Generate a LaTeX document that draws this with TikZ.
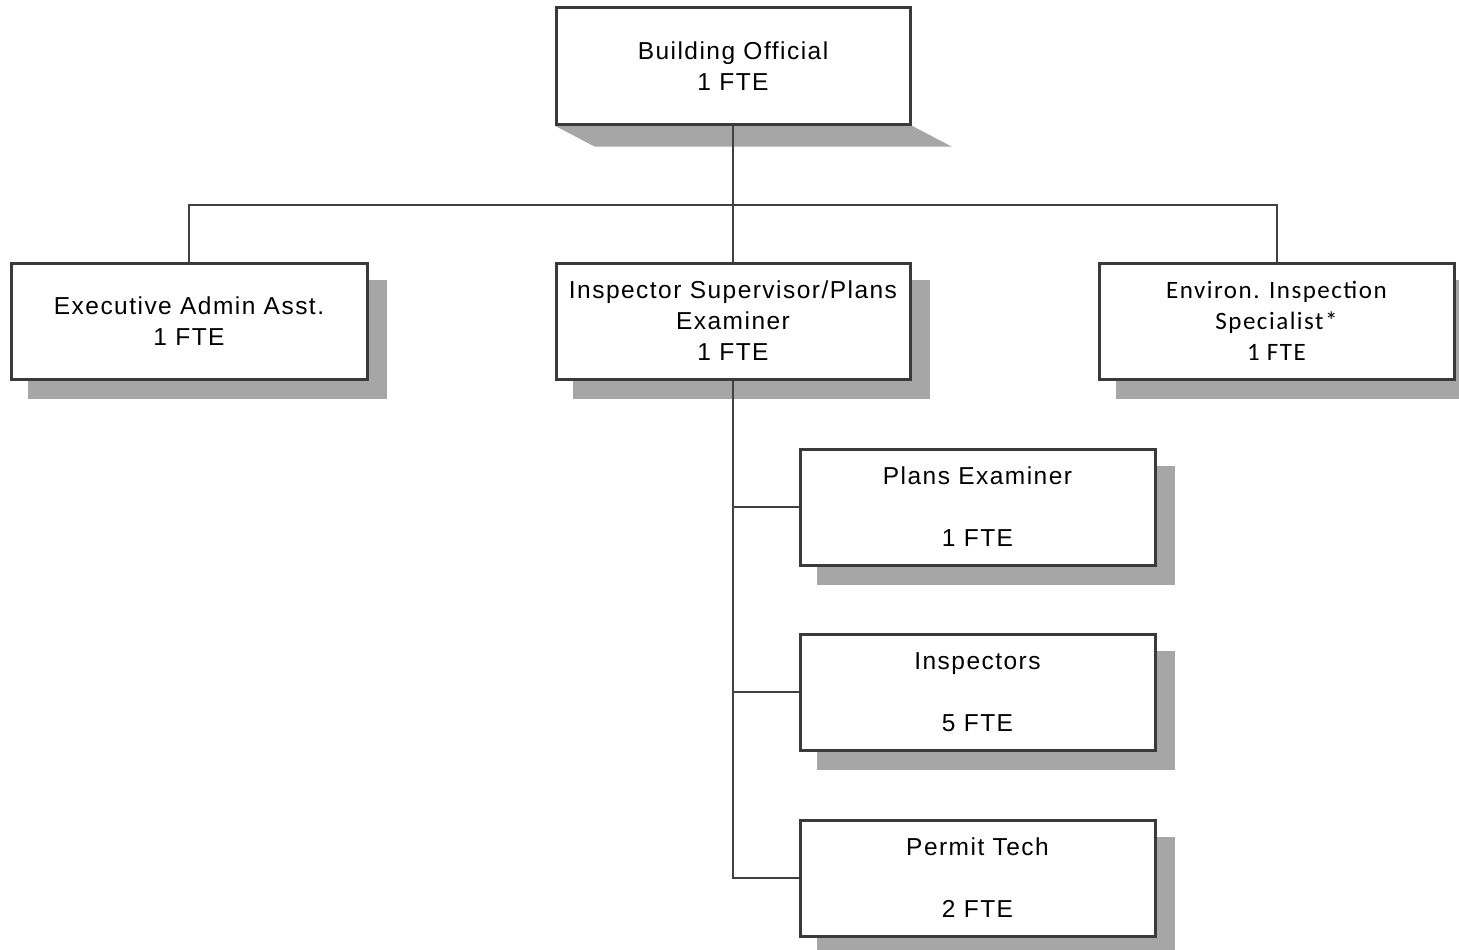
\documentclass[tikz,border=0pt]{standalone}
\usepackage{fontspec}
\setmainfont[LetterSpace=6]{Liberation Sans}
\newfontfamily\calfont[LetterSpace=6]{Carlito}
\usetikzlibrary{backgrounds}
\definecolor{boxline}{HTML}{3A3A3A}
\definecolor{conn}{HTML}{404040}
\definecolor{shadowc}{HTML}{A6A6A6}
\tikzset{
  orgbox/.style={draw=boxline, line width=3pt, fill=white, minimum width=355pt, minimum height=116pt, inner sep=0pt, align=center, font=\fontsize{24.5}{31}\selectfont},
  link/.style={draw=conn, line width=2pt},
  shade/.style={fill=shadowc}
}
\begin{document}
\begin{tikzpicture}[x=1pt,y=-1pt]
\useasboundingbox (0,0) rectangle (1459,950);
\node[orgbox, minimum width=354pt] (bo) at (733,66) {Building Official\\1 FTE};
\node[orgbox, minimum width=356pt] (ea) at (189,321) {Executive Admin Asst.\\1 FTE};
\node[orgbox, minimum width=354pt] (is) at (733,321) {Inspector Supervisor/Plans\\Examiner\\1 FTE};
\node[orgbox, font=\calfont\fontsize{25}{31}\selectfont] (es) at (1276.5,321) {Environ. Inspection\\Specialist*\\1 FTE};
\node[orgbox] (pe) at (977.5,507) {Plans Examiner\\[31pt]1 FTE};
\node[orgbox] (in) at (977.5,692) {Inspectors\\[31pt]5 FTE};
\node[orgbox] (pt) at (977.5,878) {Permit Tech\\[31pt]2 FTE};
\coordinate (bus) at (733,205);
\begin{pgfonlayer}{background}
  \fill[shade] (bo.south west) -- (bo.south east) -- ([shift={(40,21)}]bo.south east) -- ([shift={(40,21)}]bo.south west) -- cycle;
  \foreach \n in {ea,is,es,pe,in,pt}{
    \fill[shade] ([shift={(18,18)}]\n.north west) rectangle ([shift={(18,18)}]\n.south east);
  }
  \draw[link] (bo.south) -- (bus);
  \draw[link] (ea.north) |- (bus);
  \draw[link] (es.north) |- (bus);
  \draw[link] (bus) -- (is.north);
  \draw[link] (is.south) |- (pt.west);
  \draw[link] (is.south) |- (pe.west);
  \draw[link] (is.south) |- (in.west);
\end{pgfonlayer}
\end{tikzpicture}
\end{document}
